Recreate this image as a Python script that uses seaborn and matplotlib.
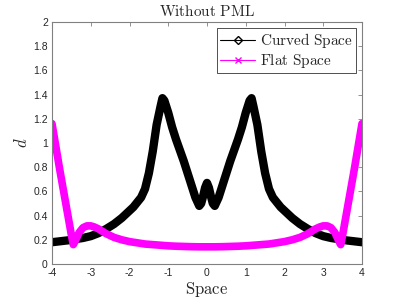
import pandas as pd
import matplotlib.pyplot as plt
import seaborn as sns
from matplotlib.lines import Line2D

# Curved Space values
x_curved = [-4.0, -3.6, -3.2, -3.0, -2.8, -2.6, -2.4, -2.2, -2.0, -1.9, -1.8,
            -1.7, -1.6, -1.5, -1.4, -1.3, -1.2, -1.15, -1.1, -1.0, -0.9, -0.8,
            -0.7, -0.6, -0.5, -0.4, -0.3, -0.2, -0.15, -0.1, -0.05, 0.0,
            0.05, 0.1, 0.15, 0.2, 0.3, 0.4, 0.5, 0.6, 0.7, 0.8, 0.9, 1.0,
            1.1, 1.15, 1.2, 1.3, 1.4, 1.5, 1.6, 1.7, 1.8, 1.9, 2.0, 2.2,
            2.4, 2.6, 2.8, 3.0, 3.2, 3.6, 4.0]
d_curved = [0.18, 0.195, 0.215, 0.23, 0.255, 0.29, 0.33, 0.38, 0.44, 0.47, 0.51,
            0.55, 0.62, 0.75, 0.93, 1.15, 1.3, 1.37, 1.35, 1.25, 1.13, 1.03,
            0.94, 0.85, 0.75, 0.65, 0.55, 0.48, 0.5, 0.56, 0.63, 0.67,
            0.63, 0.56, 0.5, 0.48, 0.55, 0.65, 0.75, 0.85, 0.94, 1.03, 1.13, 1.25,
            1.35, 1.37, 1.3, 1.15, 0.93, 0.75, 0.62, 0.55, 0.51, 0.47, 0.44, 0.38,
            0.33, 0.29, 0.255, 0.23, 0.215, 0.195, 0.18]

# Flat Space values
x_flat = [-4.0, -3.9, -3.8, -3.7, -3.6, -3.5, -3.45, -3.4, -3.3, -3.2, -3.1,
          -3.0, -2.9, -2.8, -2.7, -2.6, -2.5, -2.4, -2.3, -2.2, -2.0, -1.8,
          -1.6, -1.4, -1.2, -1.0, -0.8, -0.6, -0.4, -0.2, 0.0,
          0.2, 0.4, 0.6, 0.8, 1.0, 1.2, 1.4, 1.6, 1.8, 2.0, 2.2, 2.3, 2.4,
          2.5, 2.6, 2.7, 2.8, 2.9, 3.0, 3.1, 3.2, 3.3, 3.4, 3.45, 3.5, 3.6,
          3.7, 3.8, 3.9, 4.0]
d_flat = [1.16, 0.97, 0.78, 0.6, 0.42, 0.24, 0.16, 0.19, 0.26, 0.3, 0.315,
          0.315, 0.305, 0.29, 0.27, 0.25, 0.235, 0.22, 0.21, 0.2, 0.185, 0.175,
          0.165, 0.16, 0.155, 0.15, 0.147, 0.145, 0.143, 0.142, 0.142,
          0.142, 0.143, 0.145, 0.147, 0.15, 0.155, 0.16, 0.165, 0.175, 0.185, 0.2, 0.21, 0.22,
          0.235, 0.25, 0.27, 0.29, 0.305, 0.315, 0.315, 0.3, 0.26, 0.19, 0.16, 0.24, 0.42,
          0.6, 0.78, 0.97, 1.16]

x_ticks = [-4, -3, -2, -1, 0, 1, 2, 3, 4]
y_ticks = [0, 0.2, 0.4, 0.6, 0.8, 1, 1.2, 1.4, 1.6, 1.8, 2]
y_ticklabels = ["0", "0.2", "0.4", "0.6", "0.8", "1", "1.2", "1.4", "1.6", "1.8", "2"]

curved_df = pd.DataFrame({"Space": x_curved, "d": d_curved})
flat_df = pd.DataFrame({"Space": x_flat, "d": d_flat})

sns.set_style("white")
plt.rcParams["font.family"] = ["Liberation Sans", "DejaVu Sans"]
plt.rcParams["mathtext.fontset"] = "cm"

fig = plt.figure(figsize=(4, 3), dpi=100)
ax = fig.add_axes([0.13, 0.12, 0.775, 0.807])

sns.lineplot(data=curved_df, x="Space", y="d", ax=ax, color="black",
             linewidth=6, sort=False, solid_joinstyle="round",
             solid_capstyle="round")
sns.lineplot(data=flat_df, x="Space", y="d", ax=ax, color="#ff00ff",
             linewidth=5.5, sort=False, solid_joinstyle="round",
             solid_capstyle="round")

ax.set_xlim(-4, 4)
ax.set_ylim(0, 2)
ax.set_xticks(x_ticks)
ax.set_xticklabels([str(t) for t in x_ticks])
ax.set_yticks(y_ticks)
ax.set_yticklabels(y_ticklabels)
ax.tick_params(direction="in", length=3, width=0.6, labelsize=7.5,
               colors="#262626", top=True, right=True, pad=3)
ax.tick_params(axis="both", which="both", color="#808080")
for s in ax.spines.values():
    s.set_color("#808080")
    s.set_linewidth(0.8)

ax.set_title(r"$\mathrm{Without\ PML}$", fontsize=11, pad=4)
ax.set_xlabel(r"$\mathrm{Space}$", fontsize=12, labelpad=1)
ax.set_ylabel(r"$d$", fontsize=12, labelpad=2)

handles = [
    Line2D([], [], color="black", linewidth=0.8, marker="D", markersize=4.5,
           markerfacecolor="none", markeredgecolor="black"),
    Line2D([], [], color="#ff00ff", linewidth=0.8, marker="x", markersize=4,
           markeredgecolor="#ff00ff"),
]
leg = ax.legend(handles, [r"$\mathrm{Curved\ Space}$", r"$\mathrm{Flat\ Space}$"],
                loc="upper right", fontsize=11, frameon=True, fancybox=False,
                edgecolor="black", borderpad=0.2, labelspacing=0.15,
                handlelength=2.3, handletextpad=0.3, borderaxespad=0.4)
leg.get_frame().set_linewidth(0.6)

fig.savefig("out.png", dpi=100)
